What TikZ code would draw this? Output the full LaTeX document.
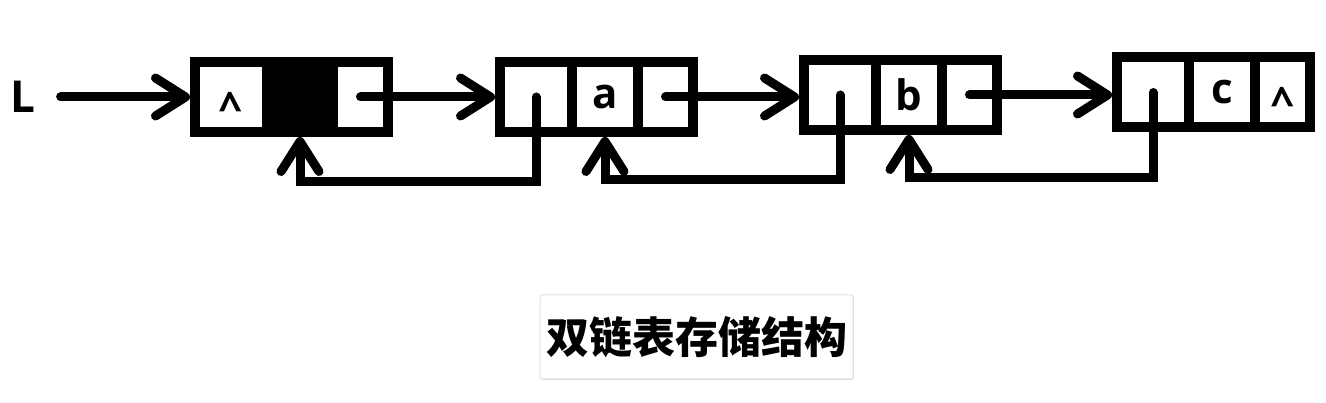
\documentclass[tikz,border=0pt]{standalone}
\usepackage{fontspec}
\setmainfont{Open Sans}
\newfontfamily\cjk{Noto Sans CJK SC}
\usetikzlibrary{arrows.meta,shadows}
\tikzset{
	cell/.style={draw, line width=10pt, inner sep=0pt, minimum height=70pt, font=\fontsize{42}{42}\selectfont\bfseries},
	prevcell/.style={cell, minimum width=72pt},
	datacell/.style={cell, minimum width=66pt},
	nextcell/.style={cell, minimum width=55pt},
	caret/.style={inner sep=0pt, font=\fontsize{42}{42}\selectfont\bfseries, yshift=-10pt},
	ptr/.style={line width=9pt, line cap=round, -{Straight Barb[length=30pt,width=38pt,round]}},
	titlebox/.style={draw=black!12, line width=1pt, fill=white, rounded corners=2pt, minimum width=313pt, minimum height=84pt, inner sep=0pt, drop shadow={opacity=0.25, shadow xshift=0.8pt, shadow yshift=-0.8pt}, font=\cjk\fontsize{43}{43}\selectfont\bfseries},
}

\begin{document}
\begin{tikzpicture}[x=1pt, y=-1pt]
			%%%%% START %%%%%
			
			\fill[white] (0, 0) rectangle (1326, 403);
			\useasboundingbox (0, 0) rectangle (1326, 403);
			
			\node[inner sep=0pt, font=\fontsize{44}{44}\selectfont\bfseries] (L) at (23, 97) {L};
			
			\node[prevcell] (n1prev) at (231, 97) {};
			\node[datacell, fill=black] (n1data) at (300, 97) {};
			\node[nextcell] (n1next) at (360.5, 97) {};
			\node[caret] (n1nil) at (n1prev) {\textasciicircum};
			
			\node[prevcell] (n2prev) at (536, 97) {};
			\node[datacell] (n2data) at (605, 97) {a};
			\node[nextcell] (n2next) at (665.5, 97) {};
			
			\node[prevcell] (n3prev) at (840, 95) {};
			\node[datacell] (n3data) at (909, 95) {b};
			\node[nextcell] (n3next) at (969.5, 95) {};
			
			\node[prevcell] (n4prev) at (1153, 92.5) {};
			\node[datacell] (n4data) at (1222, 92.5) {c};
			\node[nextcell] (n4next) at (1282.5, 92.5) {};
			\node[caret] (n4nil) at (n4next) {\textasciicircum};
			
			\draw[ptr, shorten <=25pt] (L.east) -- (L.east -| n1prev.west);
			
			\draw[ptr] (n1next.center) -- (n1next.center -| n2prev.west);
			\draw[ptr] (n2next.center) -- (n2next.center -| n3prev.west);
			\draw[ptr] (n3next.center) -- (n3next.center -| n4prev.west);
			
			\draw[ptr] (n2prev.center) -- ++(0, 85) -| (n1data.south);
			\draw[ptr] (n3prev.center) -- ++(0, 85) -| (n2data.south);
			\draw[ptr] (n4prev.center) -- ++(0, 85) -| (n3data.south);
			
			\node[titlebox] (title) at (696.5, 337) {双链表存储结构};
			
			%%%%% END %%%%%
\end{tikzpicture}
\end{document}
